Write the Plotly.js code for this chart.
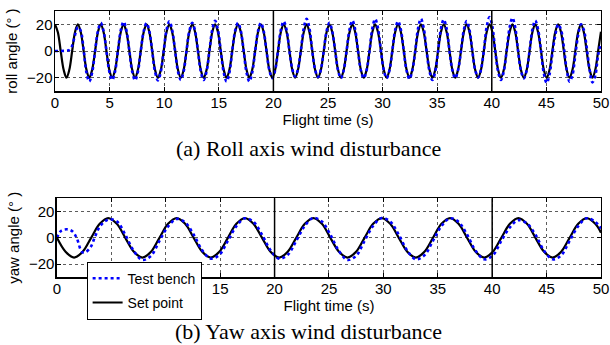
<!DOCTYPE html>
<html>
<head>
<meta charset="utf-8">
<script src="https://cdn.plot.ly/plotly-3.0.1.min.js"></script>
<style>html,body{margin:0;padding:0;background:#fff;}#chart{width:610px;height:345px;}</style>
</head>
<body>
<div id="chart"></div>
<script>
// ---- Data ----
// Roll axis: sample times (s), shared by set point and test bench
const rollT = [0,0.26,0.52,0.79,1.05,1.31,1.57,1.83,2.09,2.36,2.62,2.88,3.14,3.40,3.67,3.93,4.19,4.45,4.71,4.97,
  5.24,5.50,5.76,6.02,6.28,6.54,6.81,7.07,7.33,7.59,7.85,8.12,8.38,8.64,8.90,9.16,9.42,9.69,9.95,10.21,
  10.47,10.73,11.00,11.26,11.52,11.78,12.04,12.30,12.57,12.83,13.09,13.35,13.61,13.88,14.14,14.40,14.66,14.92,15.18,15.45,
  15.71,15.97,16.23,16.49,16.76,17.02,17.28,17.54,17.80,18.06,18.33,18.59,18.85,19.11,19.37,19.63,19.90,20.16,20.42,20.68,
  20.94,21.21,21.47,21.73,21.99,22.25,22.51,22.78,23.04,23.30,23.56,23.82,24.09,24.35,24.61,24.87,25.13,25.39,25.66,25.92,
  26.18,26.44,26.70,26.97,27.23,27.49,27.75,28.01,28.27,28.54,28.80,29.06,29.32,29.58,29.85,30.11,30.37,30.63,30.89,31.15,
  31.42,31.68,31.94,32.20,32.46,32.72,32.99,33.25,33.51,33.77,34.03,34.30,34.56,34.82,35.08,35.34,35.60,35.87,36.13,36.39,
  36.65,36.91,37.18,37.44,37.70,37.96,38.22,38.48,38.75,39.01,39.27,39.53,39.79,40.06,40.32,40.58,40.84,41.10,41.36,41.63,
  41.89,42.15,42.41,42.67,42.94,43.20,43.46,43.72,43.98,44.24,44.51,44.77,45.03,45.29,45.55,45.81,46.08,46.34,46.60,46.86,
  47.12,47.39,47.65,47.91,48.17,48.43,48.69,48.96,49.22,49.48,49.74,50.00];
// Roll set point (deg)
const rollSet = [
  20,14.1,0,-14.1,-20,-14.1,0,14.1, 20,14.1,0,-14.1,-20,-14.1,0,14.1, 20,14.1,0,-14.1,-20,-14.1,0,14.1,
  20,14.1,0,-14.1,-20,-14.1,0,14.1, 20,14.1,0,-14.1,-20,-14.1,0,14.1, 20,14.1,0,-14.1,-20,-14.1,0,14.1,
  20,14.1,0,-14.1,-20,-14.1,0,14.1, 20,14.1,0,-14.1,-20,-14.1,0,14.1, 20,14.1,0,-14.1,-20,-14.1,0,14.1,
  20,14.1,0,-14.1,-20,-14.1,0,14.1, 20,14.1,0,-14.1,-20,-14.1,0,14.1, 20,14.1,0,-14.1,-20,-14.1,0,14.1,
  20,14.1,0,-14.1,-20,-14.1,0,14.1, 20,14.1,0,-14.1,-20,-14.1,0,14.1, 20,14.1,0,-14.1,-20,-14.1,0,14.1,
  20,14.1,0,-14.1,-20,-14.1,0,14.1, 20,14.1,0,-14.1,-20,-14.1,0,14.1, 20,14.1,0,-14.1,-20,-14.1,0,14.1,
  20,14.1,0,-14.1,-20,-14.1,0,14.1, 20,14.1,0,-14.1,-20,-14.1,0,14.1, 20,14.1,0,-14.1,-20,-14.1,0,14.1,
  20,14.1,0,-14.1,-20,-14.1,0,14.1, 20,14.1,0,-14.1,-20,-14.1,0,14.1, 20,14.1,0,-14.1,-20,-14.1,0,14.5];
// Roll test bench (deg)
const rollBench = [
  0,0,0,0.1,0.3,0.8,4,12,
  18,15,1,-16.2,-22.9,-16.2,0,14.9,
  21.1,14.9,0,-15.3,-21.7,-15.3,0,15.6,
  22,15.6,0,-15.6,-22,-15.6,0,14.8,
  21,14.8,0,-15.6,-22,-15.6,0,15.8,
  22.3,15.8,0,-15.3,-21.7,-15.3,0,14.9,
  21.1,14.9,0,-15.3,-21.7,-15.3,0,16.0,
  22.6,16.0,0,-16.2,-22.9,-16.2,0,14.9,
  21.1,14.9,0,-16.2,-22.9,-16.2,0,14.9,
  21.1,14.9,0,-14.4,-20.4,-14.4,0,15.8,
  22.3,15.8,0,-13.5,-19.1,-13.5,0,17.1,
  24.2,17.1,0,-13.8,-19.5,-13.8,0,14.9,
  21.1,14.9,0,-14.4,-20.4,-14.4,0,16.2,
  22.9,16.2,0,-14.4,-20.4,-14.4,0,17.0,
  24,17.0,0,-14.4,-20.4,-14.4,0,15.8,
  22.4,15.8,0,-14.8,-21,-14.8,0,17.1,
  24.2,17.1,0,-15.3,-21.7,-15.3,0,16.7,
  23.6,16.7,0,-14.4,-20.4,-14.4,0,15.8,
  22.4,15.8,0,-14.0,-19.8,-14.0,0,18.0,
  25.4,18.0,0,-15.3,-21.7,-15.3,0,17.6,
  24.9,17.6,0,-14.5,-20.5,-14.5,0,16.2,
  22.9,16.2,0,-17.0,-24,-17.5,-2,11.5,
  20,16,3,-14,-23,-18,-3,12,
  20,16,3,-14,-23.5,-18.5,-3,6];
// Yaw axis: sample times (s)
const yawT = [0,0.79,1.57,2.36,3.14,3.93,4.71,5.50,6.28,7.07,7.85,8.64,9.42,10.21,11.00,11.78,
  12.57,13.35,14.14,14.92,15.71,16.49,17.28,18.06,18.85,19.63,20.42,21.21,21.99,22.78,23.56,24.35,
  25.13,25.92,26.70,27.49,28.27,29.06,29.85,30.63,31.42,32.20,32.99,33.77,34.56,35.34,36.13,36.91,
  37.70,38.48,39.27,40.06,40.84,41.63,42.41,43.20,43.98,44.77,45.55,46.34,47.12,47.91,48.69,49.48,50];
// Yaw set point (deg)
const yawSet = [0,-10.6,-15,-10.6,0,10.6,15,10.6, 0,-10.6,-15,-10.6,0,10.6,15,10.6,
  0,-10.6,-15,-10.6,0,10.6,15,10.6, 0,-10.6,-15,-10.6,0,10.6,15,10.6,
  0,-10.6,-15,-10.6,0,10.6,15,10.6, 0,-10.6,-15,-10.6,0,10.6,15,10.6,
  0,-10.6,-15,-10.6,0,10.6,15,10.6, 0,-10.6,-15,-10.6,0,10.6,15,10.6, 3.9];
// Yaw test bench: times (s) and values (deg)
const yawBenchT = [0,0.4,1.0,1.46,1.83,2.3,2.6,3.1,3.46,3.93,4.71,5.50,6.28,7.07,7.85,8.64,9.42,10.21,11.00,11.78,
  12.57,13.35,14.14,14.92,15.71,16.49,17.28,18.06,18.85,19.63,20.42,21.21,21.99,22.78,23.56,24.35,
  25.13,25.92,26.70,27.49,28.27,29.06,29.85,30.63,31.42,32.20,32.99,33.77,34.56,35.34,36.13,36.91,
  37.70,38.48,39.27,40.06,40.84,41.63,42.41,43.20,43.98,44.77,45.55,46.34,47.12,47.91,48.69,49.48,50];
const yawBench = [0,5.4,6.4,4.6,-0.5,-10.7,-11,-6.9,0,8.4,13.8,12.5,
  2.3,-10.1,-16.8,-13.7,-2.3,8.6,14.3,11.7,
  2.3,-9.5,-15.8,-12.9,-2.3,8.9,14.8,12.1,
  2.3,-9.5,-15.8,-12.9,-2.3,9.1,15.1,12.3,
  2.3,-10.1,-16.8,-13.7,-2.3,9.1,15.1,12.3,
  2.3,-9.8,-16.3,-13.3,-2.3,8.9,14.8,12.1,
  2.3,-9.8,-16.3,-13.3,-2.3,8.0,13.4,10.9,
  2.3,-9.8,-16.3,-13.3,-2.3,8.9,14.8,12.1, 7];
// Phase markers (solid vertical lines)
const phaseMarks = [20, 40];
const xTicks = [0,5,10,15,20,25,30,35,40,45,50];
const yTicks = [-20,0,20];

const FONT = 'Liberation Sans, Arial, sans-serif';
const SERIF = 'Liberation Serif, Times New Roman, serif';
const BLUE = '#0000ff';
const setLine = {color:'#000', width:2.2, shape:'spline', smoothing:1};
const benchLine = {color:BLUE, width:2.6, dash:'dot', shape:'spline', smoothing:1};

const traces = [
  {x: rollT, y: rollSet, xaxis:'x', yaxis:'y', mode:'lines', line:setLine, showlegend:false, name:'Set point'},
  {x: rollT, y: rollBench, xaxis:'x', yaxis:'y', mode:'lines', line:benchLine, showlegend:false, name:'Test bench'},
  {x: yawT, y: yawSet, xaxis:'x2', yaxis:'y2', mode:'lines', line:setLine, name:'Set point', legendrank:2, legendgroup:'sp'},
  {x: yawBenchT, y: yawBench, xaxis:'x2', yaxis:'y2', mode:'lines', line:benchLine, name:'Test bench', legendrank:1, legendgroup:'tb'}
];

function xax(domain, anchor){
  return {domain: domain, anchor: anchor, range:[0,50], tickvals:xTicks, ticks:'inside', ticklen:4, tickwidth:1,
    tickcolor:'#000', showline:true, linecolor:'#000', linewidth:1.5, mirror:'ticks', showgrid:true,
    gridcolor:'#333', griddash:'dot', gridwidth:0.8, zeroline:false, tickfont:{family:FONT, size:15, color:'#000'},
    ticklabelstandoff:-3,
    title:{text:'Flight time (s)', font:{family:FONT, size:15, color:'#000'}, standoff:2}};
}
function yax(domain, anchor, label){
  return {domain: domain, anchor: anchor, range:[-30,30], tickvals:yTicks, ticks:'inside', ticklen:4, tickwidth:1,
    tickcolor:'#000', showline:true, linecolor:'#000', linewidth:1.5, mirror:'ticks', showgrid:true,
    gridcolor:'#333', griddash:'dot', gridwidth:0.8, zeroline:false, tickfont:{family:FONT, size:15, color:'#000'},
    ticklabelstandoff:-2,
    title:{text:label, font:{family:FONT, size:15, color:'#000'}, standoff:6}};
}

const shapes = [];
phaseMarks.forEach(function(v){
  shapes.push({type:'line', xref:'x', yref:'y domain', x0:v, x1:v, y0:0, y1:1, line:{color:'#000', width:1.5}});
  shapes.push({type:'line', xref:'x2', yref:'y2 domain', x0:v, x1:v, y0:0, y1:1, line:{color:'#000', width:1.5}});
});

const layout = {
  width:610, height:345, margin:{l:0, r:0, t:0, b:0},
  paper_bgcolor:'#fff', plot_bgcolor:'#fff',
  xaxis: xax([0.0902, 0.9852], 'y'),
  yaxis: yax([0.7362, 0.968], 'x', 'roll angle (° )'),
  xaxis2: xax([0.0934, 0.9852], 'y2'),
  yaxis2: yax([0.1962, 0.4252], 'x2', 'yaw angle (° )'),
  shapes: shapes,
  showlegend:true,
  legend:{x:0.142, y:0.2414, xanchor:'left', yanchor:'top', bgcolor:'#fff', bordercolor:'#000', borderwidth:1,
    font:{family:FONT, size:14, color:'#000'}, traceorder:'grouped', tracegroupgap:3, itemwidth:30},
  annotations:[
    {text:'(a) Roll axis wind disturbance', xref:'paper', yref:'paper', x:0.505, y:0.571, xanchor:'center', yanchor:'middle', showarrow:false, font:{family:SERIF, size:22, color:'#000'}},
    {text:'(b) Yaw axis wind disturbance', xref:'paper', yref:'paper', x:0.505, y:0.038, xanchor:'center', yanchor:'middle', showarrow:false, font:{family:SERIF, size:22, color:'#000'}}
  ]
};

Plotly.newPlot('chart', traces, layout, {displayModeBar:false, staticPlot:true});
</script>
</body>
</html>
